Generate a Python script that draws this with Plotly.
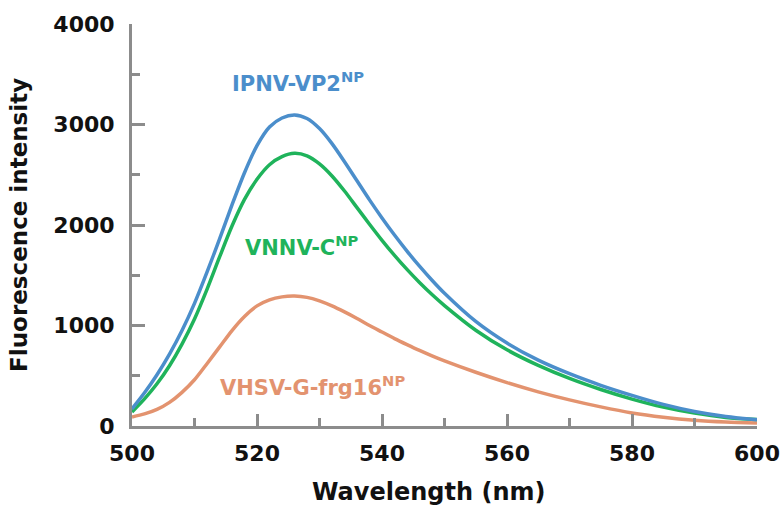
import plotly.graph_objects as go

wavelength = [500, 502, 504, 506, 508, 510, 512, 514, 516, 518, 520, 522, 524, 526, 528, 530,
              532, 534, 536, 538, 540, 542, 544, 546, 548, 550, 555, 560, 565, 570, 575, 580,
              585, 590, 595, 600]

ipnv_vp2 = [170, 330, 510, 715, 950, 1220, 1530, 1860, 2200, 2520, 2790, 2975, 3065, 3095, 3060, 2960,
            2810, 2630, 2440, 2250, 2070, 1900, 1740, 1590, 1450, 1320, 1040, 825, 655, 520, 405, 305,
            215, 145, 95, 62]

vnnv_c = [140, 270, 420, 600, 815, 1065, 1360, 1680, 1990, 2255, 2455, 2600, 2680, 2713, 2688, 2608,
          2488, 2338, 2173, 2008, 1848, 1698, 1558, 1428, 1308, 1198, 953, 758, 603, 473, 363, 268,
          188, 128, 85, 64]

vhsv_g = [90, 120, 165, 235, 335, 460, 620, 785, 950, 1090, 1195, 1255, 1285, 1293, 1280, 1245,
          1195, 1135, 1070, 1000, 935, 870, 810, 752, 698, 648, 535, 432, 340, 260, 190, 130,
          88, 58, 40, 30]

series_names = ["VHSV-G-frg16<sup>NP</sup>", "VNNV-C<sup>NP</sup>", "IPNV-VP2<sup>NP</sup>"]
series_values = [vhsv_g, vnnv_c, ipnv_vp2]
colors = ["#E3936F", "#1FB35B", "#4B8ECB"]
label_pos = [(528.8, 400), (527.2, 1790), (526.6, 3420)]

x_ticks = [500, 520, 540, 560, 580, 600]
y_ticks = [0, 1000, 2000, 3000, 4000]

FONT = "DejaVu Sans"
AXIS_GRAY = "#8C8C8C"
TEXT = "#111111"

fig = go.Figure()
for name, vals, col in zip(series_names, series_values, colors):
    fig.add_trace(go.Scatter(x=wavelength, y=vals, mode="lines", name=name,
                             line=dict(color=col, width=3.5, shape="spline", smoothing=0.8),
                             showlegend=False, hoverinfo="skip"))

for name, (lx, ly), col in zip(series_names, label_pos, colors):
    fig.add_annotation(x=lx, y=ly, xref="x", yref="y", text="<b>" + name + "</b>",
                       showarrow=False, xanchor="center", yanchor="middle",
                       font=dict(family=FONT, size=21, color=col))

# axis titles
fig.add_annotation(x=0.4736, y=-0.124, xref="paper", yref="paper", yanchor="top",
                   xanchor="center", showarrow=False,
                   text="<b>Wavelength (nm)</b>", font=dict(family=FONT, size=24, color=TEXT))
fig.add_annotation(x=-0.181, y=0.5, xref="paper", yref="paper", xanchor="center",
                   yanchor="middle", textangle=-90, showarrow=False,
                   text="<b>Fluorescence intensity</b>", font=dict(family=FONT, size=23, color=TEXT))

fig.update_xaxes(range=[500, 600], tickvals=x_ticks, ticktext=[str(v) for v in x_ticks],
                 ticks="inside", ticklen=12, tickwidth=3, tickcolor=AXIS_GRAY,
                 showline=True, linecolor=AXIS_GRAY, linewidth=3, showgrid=False, zeroline=False,
                 minor=dict(ticks="inside", dtick=10, tick0=500, ticklen=8, tickwidth=3,
                            tickcolor=AXIS_GRAY, showgrid=False),
                 tickfont=dict(family=FONT, size=22, color=TEXT, weight="bold"),
                 ticklabelstandoff=6, automargin=False)
fig.update_yaxes(range=[0, 4000], tickvals=y_ticks, ticktext=[str(v) for v in y_ticks],
                 ticks="inside", ticklen=13, tickwidth=3, tickcolor=AXIS_GRAY,
                 showline=True, linecolor=AXIS_GRAY, linewidth=3, showgrid=False, zeroline=False,
                 minor=dict(ticks="inside", dtick=500, tick0=0, ticklen=8, tickwidth=3,
                            tickcolor=AXIS_GRAY, showgrid=False),
                 tickfont=dict(family=FONT, size=22, color=TEXT, weight="bold"),
                 ticklabelstandoff=10, automargin=False)

fig.update_layout(width=784, height=507, margin=dict(l=132, r=27, t=24, b=81),
                  paper_bgcolor="white", plot_bgcolor="white")

fig.write_html("out.html")
